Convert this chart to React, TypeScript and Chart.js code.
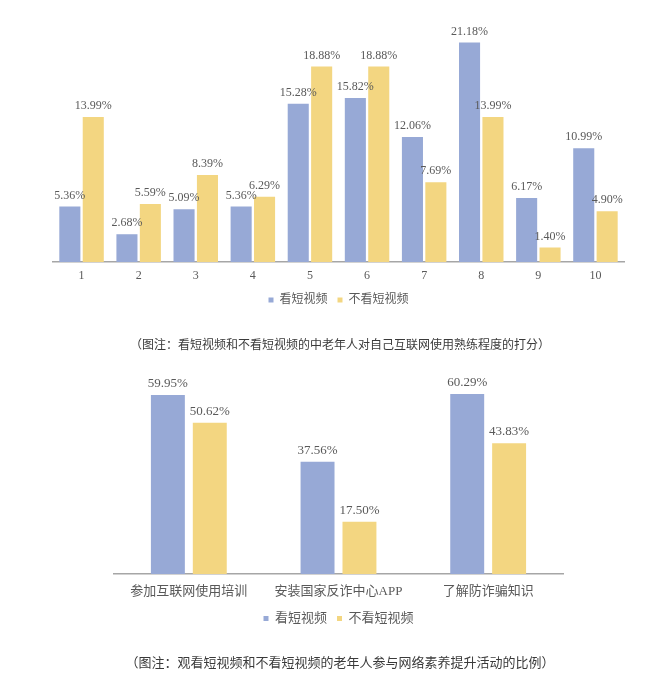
import { useEffect, useRef } from "react";
import { Chart, registerables, type ChartConfiguration, type Plugin } from "chart.js";

Chart.register(...registerables);

// chart 1: self rating scores 1..10
const scoreLabels = ["1", "2", "3", "4", "5", "6", "7", "8", "9", "10"];
const scoreWatch = [5.36, 2.68, 5.09, 5.36, 15.28, 15.82, 12.06, 21.18, 6.17, 10.99];
const scoreNoWatch = [13.99, 5.59, 8.39, 6.29, 18.88, 18.88, 7.69, 13.99, 1.4, 4.9];

// chart 2: activities
const activityLabels = ["参加互联网使用培训", "安装国家反诈中心APP", "了解防诈骗知识"];
const activityWatch = [59.95, 37.56, 60.29];
const activityNoWatch = [50.62, 17.5, 43.83];

const seriesNames = ["看短视频", "不看短视频"];
const BLUE = "#97a9d6";
const YELLOW = "#f3d681";
const TEXT = "#595959";
const SERIF = "'Liberation Serif', 'Noto Sans CJK SC', serif";

const caption1 = "（图注：看短视频和不看短视频的中老年人对自己互联网使用熟练程度的打分）";
const caption2 = "（图注：观看短视频和不看短视频的老年人参与网络素养提升活动的比例）";

// value labels above bars
const valueLabels = (fontSize: number, gap: number): Plugin<"bar"> => ({
    id: "valueLabels",
    afterDatasetsDraw: (chart) => {
        const { ctx } = chart;
        ctx.save();
        ctx.font = `${fontSize}px ${SERIF}`;
        ctx.fillStyle = TEXT;
        ctx.textAlign = "center";
        ctx.textBaseline = "bottom";
        chart.data.datasets.forEach((ds, i) => {
            chart.getDatasetMeta(i).data.forEach((bar, j) => {
                const v = ds.data[j] as number;
                ctx.fillText(v.toFixed(2) + "%", bar.x, bar.y - gap);
            });
        });
        ctx.restore();
    },
});

interface BarChartProps {
    labels: string[];
    a: number[];
    b: number[];
    yMax: number;
    padding: { left: number; right: number; top: number; bottom: number };
    catPct: number;
    barPct: number;
    tickSize: number;
    tickPadding: number;
    labelSize: number;
    legendSize: number;
    axisHeight: number;
    legendPadding: number;
}

const BarChart = (p: BarChartProps) => {
    const chartRef = useRef<HTMLCanvasElement>(null);
    const chartInstanceRef = useRef<Chart | null>(null);

    useEffect(() => {
        if (!chartRef.current) return;
        chartInstanceRef.current?.destroy();

        const config: ChartConfiguration<"bar"> = {
            type: "bar",
            data: {
                labels: p.labels,
                datasets: [
                    { label: seriesNames[0], data: p.a, backgroundColor: BLUE },
                    { label: seriesNames[1], data: p.b, backgroundColor: YELLOW },
                ],
            },
            options: {
                animation: false,
                responsive: true,
                maintainAspectRatio: false,
                categoryPercentage: p.catPct,
                barPercentage: p.barPct,
                layout: { padding: p.padding },
                plugins: {
                    tooltip: { enabled: false },
                    legend: {
                        position: "bottom",
                        labels: {
                            boxWidth: 5,
                            boxHeight: 5,
                            padding: p.legendPadding,
                            color: TEXT,
                            font: { size: p.legendSize, family: SERIF },
                        },
                    },
                },
                scales: {
                    x: {
                        grid: { display: false, drawTicks: false },
                        border: { display: true, color: "#a6a6a6", width: 1.5 },
                        ticks: {
                            color: TEXT,
                            padding: p.tickPadding,
                            font: { size: p.tickSize, family: SERIF },
                        },
                        afterFit: (scale) => {
                            scale.height = p.axisHeight;
                        },
                    },
                    y: {
                        display: false,
                        min: 0,
                        max: p.yMax,
                    },
                },
            },
            plugins: [valueLabels(p.labelSize, 5)],
        };

        chartInstanceRef.current = new Chart(chartRef.current, config);

        return () => {
            chartInstanceRef.current?.destroy();
            chartInstanceRef.current = null;
        };
    }, []);

    return <canvas ref={chartRef} />;
};

const App = () => {
    return (
        <div
            style={{
                position: "fixed",
                left: 0,
                top: 0,
                width: 660,
                height: 680,
                background: "#fff",
                fontFamily: "'Noto Sans CJK SC', sans-serif",
                color: "#3a3a3a",
            }}
        >
            <div style={{ position: "absolute", left: 0, top: 0, width: 660, height: 316 }}>
                <BarChart
                    labels={scoreLabels}
                    a={scoreWatch}
                    b={scoreNoWatch}
                    yMax={25}
                    padding={{ left: 53, right: 36, top: 3, bottom: 0 }}
                    catPct={0.82}
                    barPct={0.9}
                    tickSize={12}
                    tickPadding={7}
                    labelSize={12}
                    legendSize={12}
                    axisHeight={22}
                    legendPadding={10}
                />
            </div>
            <div
                style={{
                    position: "absolute",
                    left: 0,
                    top: 335,
                    width: 680,
                    textAlign: "center",
                    fontSize: 12,
                    lineHeight: "18px",
                }}
            >
                {caption1}
            </div>
            <div style={{ position: "absolute", left: 0, top: 350, width: 660, height: 285 }}>
                <BarChart
                    labels={activityLabels}
                    a={activityWatch}
                    b={activityNoWatch}
                    yMax={70}
                    padding={{ left: 114, right: 97, top: 15, bottom: 0 }}
                    catPct={0.56}
                    barPct={0.81}
                    tickSize={13}
                    tickPadding={10}
                    labelSize={13}
                    legendSize={13}
                    axisHeight={28}
                    legendPadding={10}
                />
            </div>
            <div
                style={{
                    position: "absolute",
                    left: 0,
                    top: 653,
                    width: 680,
                    textAlign: "center",
                    fontSize: 13,
                    lineHeight: "18px",
                }}
            >
                {caption2}
            </div>
        </div>
    );
};

export default App;
